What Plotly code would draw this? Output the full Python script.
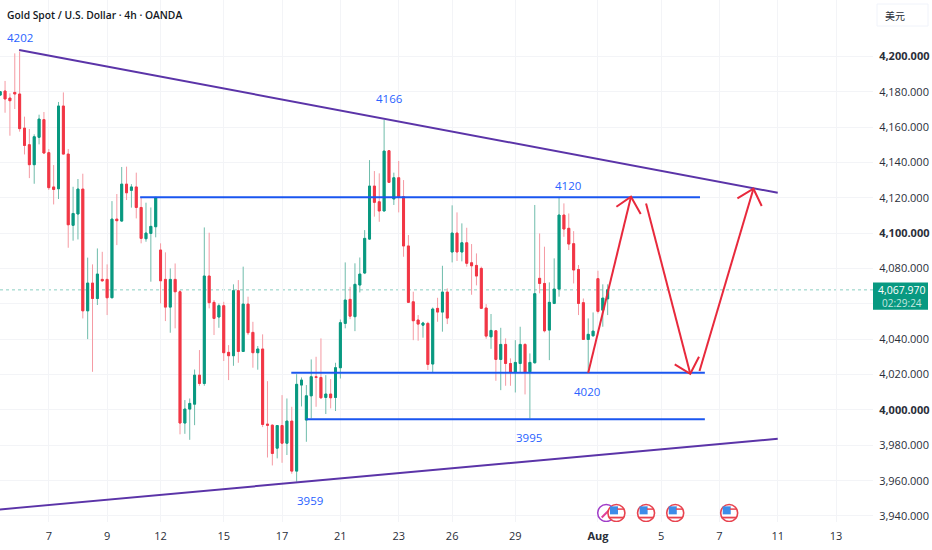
import plotly.graph_objects as go

opens = [4178.2,4180.5,4176.5,4179.7,4178.8,4159.5,4150.1,4138.8,4154.3,4164.3,
4145.6,4126.2,4125.2,4172.0,4144.8,4104.5,4110.9,4125.0,4056.1,4071.8,
4063.1,4073.9,4073.9,4063.5,4108.0,4106.9,4127.8,4124.3,4126.2,4114.6,
4096.9,4099.9,4103.7,4090.5,4073.9,4058.2,4073.9,4066.9,3992.6,4000.5,
4003.3,4019.7,4015.0,4075.8,4060.9,4052.6,4059.0,4032.6,4030.7,4067.5,
4033.1,4059.9,4043.9,4032.4,4034.5,3992.0,3991.4,3978.4,3991.2,3981.2,
3993.7,3965.4,4014.1,3994.3,4008.0,4018.8,4018.4,4007.1,4009.0,4007.1,
4023.9,4049.0,4062.6,4052.8,4070.7,4077.5,4096.7,4126.7,4117.8,4112.6,
4146.7,4119.4,4131.4,4120.7,4092.8,4061.2,4050.9,4048.0,4049.0,4026.0,
4057.5,4055.4,4066.7,4089.4,4100.1,4089.4,4094.6,4083.3,4081.8,4080.1,
4057.7,4041.4,4044.8,4028.6,4037.1,4026.3,4021.2,4026.3,4037.1,4021.6,
4026.7,4074.5,4071.6,4045.2,4060.3,4068.4,4110.3,4102.8,4094.1,4079.5,
4060.7,4039.9,4042.0,4074.3,4056.5,4062.9]
highs = [4180.5,4186.2,4179.2,4201.8,4202.8,4166.0,4159.0,4156.0,4167.1,4168.6,
4147.7,4138.6,4174.3,4179.7,4147.7,4126.3,4130.7,4133.7,4086.2,4082.4,
4091.4,4089.5,4082.4,4118.2,4122.2,4137.5,4137.7,4127.8,4134.3,4120.3,
4117.3,4114.6,4120.3,4094.3,4089.2,4080.1,4082.9,4067.8,4005.6,4006.5,
4022.9,4033.9,4103.3,4100.3,4062.2,4060.3,4061.2,4036.7,4071.1,4073.5,
4081.1,4064.1,4049.9,4036.2,4042.8,4016.3,3991.8,3991.4,4008.4,4006.5,
4001.8,4020.3,4018.4,4014.1,4028.6,4030.1,4040.5,4019.7,4017.5,4026.7,
4051.2,4083.5,4069.7,4083.0,4086.3,4101.8,4141.4,4135.2,4133.9,4164.1,
4147.1,4134.3,4140.9,4130.1,4099.0,4066.9,4053.7,4049.9,4049.9,4058.0,
4063.5,4081.6,4068.8,4115.8,4111.8,4105.6,4103.1,4093.9,4088.6,4081.1,
4059.9,4054.3,4045.2,4046.5,4040.5,4029.2,4039.5,4047.1,4037.7,4032.0,
4116.0,4099.9,4092.4,4072.2,4085.8,4120.1,4116.9,4111.2,4101.2,4082.0,
4063.1,4051.8,4055.2,4078.8,4071.1,4071.1]
lows = [4177.8,4168.2,4155.2,4170.3,4157.5,4144.6,4131.2,4128.0,4150.3,4144.8,
4124.5,4116.3,4119.4,4144.8,4091.8,4095.8,4096.5,4051.8,4040.1,4021.6,
4059.4,4072.4,4053.7,4063.5,4093.3,4106.5,4118.8,4114.5,4108.4,4094.3,
4095.2,4072.6,4097.7,4060.3,4050.3,4043.7,4046.2,3986.2,3986.5,3983.1,
3991.4,4013.7,4013.7,4057.5,4042.4,4046.5,4027.7,4016.9,4025.0,4026.7,
4033.1,4042.4,4023.9,4022.8,3990.3,3973.1,3968.6,3972.6,3970.1,3974.5,
3963.9,3959.4,4002.0,3982.0,3995.2,4001.8,4006.2,3997.7,4000.9,3999.4,
4017.8,4046.2,4051.4,4044.6,4066.5,4076.9,4096.2,4109.4,4106.5,4112.6,
4128.8,4116.0,4111.8,4086.7,4060.9,4039.5,4039.2,4040.9,4022.6,4021.1,
4049.9,4044.3,4048.6,4083.5,4084.3,4084.1,4081.1,4065.2,4070.5,4057.1,
4040.3,4034.6,4016.5,4011.2,4013.7,4013.7,4009.9,4021.2,4008.8,3995.2,
4026.3,4066.0,4043.9,4028.2,4059.9,4064.1,4098.0,4090.5,4071.6,4053.7,
4039.9,4021.1,4041.4,4054.6,4047.1,4053.7]
closes = [4180.1,4176.0,4175.0,4178.8,4159.2,4149.7,4138.8,4154.6,4164.6,4145.4,
4125.8,4124.8,4172.0,4144.8,4104.8,4111.2,4125.0,4056.1,4071.8,4063.1,
4076.9,4073.1,4063.5,4108.0,4107.1,4127.8,4122.9,4126.2,4114.6,4097.1,
4100.1,4103.9,4120.3,4073.1,4058.2,4073.9,4066.9,3992.6,4000.5,4003.7,
4019.7,4015.0,4075.8,4060.7,4051.8,4059.0,4032.4,4030.7,4067.5,4033.1,
4059.9,4043.7,4032.4,4034.5,3991.8,3991.4,3975.4,3991.2,3981.2,3993.7,
3965.4,4014.5,4016.9,4008.0,4018.8,4018.4,4006.9,4009.0,4006.9,4023.9,
4049.4,4062.2,4053.1,4071.1,4076.9,4097.1,4126.7,4117.5,4112.6,4146.5,
4128.8,4131.4,4120.7,4092.8,4060.9,4050.5,4048.6,4049.2,4025.8,4057.1,
4055.4,4066.7,4052.0,4100.1,4089.4,4094.6,4083.0,4081.6,4075.8,4057.5,
4041.8,4045.0,4028.6,4037.1,4026.3,4021.2,4026.9,4037.1,4021.2,4026.9,
4065.8,4071.6,4044.8,4060.9,4068.4,4110.3,4102.4,4093.9,4079.2,4060.3,
4039.9,4042.8,4044.6,4055.8,4063.3,4067.97]
bars = list(range(len(opens)))

date_bars = [10,22,33,46,58,70,82,93,106,123,136,148,160,172]
date_labels = ["7","9","12","15","17","21","23","26","29","<b>Aug</b>","5","7","11","13"]
price_ticks = [3940,3960,3980,4000,4020,4040,4060,4080,4100,4120,4140,4160,4180,4200]
price_labels = ["3,940.000","3,960.000","3,980.000","<b>4,000.000</b>","4,020.000","4,040.000","",
                "4,080.000","<b>4,100.000</b>","4,120.000","4,140.000","4,160.000","4,180.000","<b>4,200.000</b>"]

upper_x, upper_y = [3.9,160], [4203.7,4122.9]
lower_x, lower_y = [-1,160], [3943.5,3983.7]
res_x, res_y = [28.8,144], [4120.4,4120.4]
mid_x, mid_y = [59.9,145], [4021.0,4021.0]
sup_x, sup_y = [63,145], [3994.8,3994.8]

up1_x, up1_y = [121,129.8], [4021,4120.7]
up1_head_x, up1_head_y = [126.8,129.8,131.8], [4115,4120.7,4110.9]
down_x, down_y = [132.9,142], [4116.9,4020.5]
down_head_x, down_head_y = [138.8,142,143.8], [4025.8,4020.5,4030.1]
up2_x, up2_y = [143.9,155], [4022,4125.2]
up2_head_x, up2_head_y = [151.7,155,156.7], [4119.7,4125.2,4115.4]

note_x = [4.1,80.2,116.9,120.8,108.8,63.8]
note_y = [4211,4176.5,4127.3,4010.7,3984.7,3949]
note_text = ["4202","4166","4120","4020","3995","3959"]

event_x = [126.8,132.9,138.9,150]
event_y = 3941.7
flash_x = 124.7
last_price = 4067.97

GREEN, RED = "#089981", "#f23645"
BLUE, PURPLE, ARROW = "#1a56f0", "#5b34a8", "#e8293c"
TXT = "#2a2e39"
FONT = "Open Sans"

fig = go.Figure()
# wicks
fig.add_trace(go.Candlestick(x=bars, open=opens, high=highs, low=lows, close=closes,
    whiskerwidth=0,
    increasing=dict(line=dict(color="#6fbcab", width=1), fillcolor=GREEN),
    decreasing=dict(line=dict(color="#f59aa3", width=1), fillcolor=RED)))
# solid bodies on top of the wicks
body_high = [max(a, b) for a, b in zip(opens, closes)]
body_low = [min(a, b) for a, b in zip(opens, closes)]
fig.add_trace(go.Candlestick(x=bars, open=opens, high=body_high, low=body_low, close=closes,
    whiskerwidth=0,
    increasing=dict(line=dict(color=GREEN, width=1), fillcolor=GREEN),
    decreasing=dict(line=dict(color=RED, width=1), fillcolor=RED)))

def line(x, y, color, w=2):
    fig.add_trace(go.Scatter(x=x, y=y, mode="lines", line=dict(color=color, width=w), hoverinfo="skip"))

line(upper_x, upper_y, PURPLE, 2)
line(lower_x, lower_y, PURPLE, 2)
line(res_x, res_y, BLUE)
line(mid_x, mid_y, BLUE)
line(sup_x, sup_y, BLUE)
for ax, ay in [(up1_x, up1_y), (up1_head_x, up1_head_y), (down_x, down_y),
               (down_head_x, down_head_y), (up2_x, up2_y), (up2_head_x, up2_head_y)]:
    line(ax, ay, ARROW, 2)

# event badges
fig.add_trace(go.Scatter(x=[flash_x], y=[event_y], mode="markers", hoverinfo="skip",
    marker=dict(symbol="circle", size=17, color="white", line=dict(color="#a03cc8", width=1.5))))
fig.add_trace(go.Scatter(x=[flash_x], y=[event_y], mode="markers", hoverinfo="skip",
    marker=dict(symbol="line-ne", size=9, line=dict(color="#e0409a", width=2))))
fig.add_trace(go.Scatter(x=event_x, y=[event_y]*len(event_x), mode="markers", hoverinfo="skip",
    marker=dict(symbol="circle", size=17, color="white", line=dict(color="#e8434f", width=1.6))))
fig.add_trace(go.Scatter(x=[v-0.5 for v in event_x], y=[event_y+1.5]*len(event_x), mode="markers", hoverinfo="skip",
    marker=dict(symbol="square", size=8, color="#3d8ce8")))
fig.add_trace(go.Scatter(x=[v+0.9 for v in event_x], y=[event_y+2.2]*len(event_x), mode="markers", hoverinfo="skip",
    marker=dict(symbol="line-ew", size=5, line=dict(color="#e8434f", width=1.5))))
fig.add_trace(go.Scatter(x=event_x, y=[event_y-2.6]*len(event_x), mode="markers", hoverinfo="skip",
    marker=dict(symbol="line-ew", size=11, line=dict(color="#e8434f", width=1.8))))

annotations = [dict(x=a, y=b, text=t, xref="x", yref="y", showarrow=False,
                    font=dict(family=FONT, size=11.5, color="#2962ff"))
               for a, b, t in zip(note_x, note_y, note_text)]
annotations += [
    dict(x=5/873, xref="paper", xanchor="left", y=1 - 15/522, yref="paper", yanchor="middle",
         text="Gold Spot / U.S. Dollar · 4h · OANDA", showarrow=False,
         font=dict(family=FONT, size=10.3, color="#131722", weight=600)),
    dict(x=883/873, xref="paper", xanchor="left", y=1 - 15/522, yref="paper", yanchor="middle",
         text="美元", showarrow=False, font=dict(family="Noto Sans CJK SC", size=10, color=TXT)),
    dict(x=902/873, xref="paper", xanchor="center", y=last_price, yref="y", yshift=0, yanchor="middle", showarrow=False,
         text="4,067.970", font=dict(family=FONT, size=10.5, color="white")),
    dict(x=902/873, xref="paper", xanchor="center", y=last_price, yref="y", yshift=-13, yanchor="middle", showarrow=False,
         text="02:29:24", font=dict(family=FONT, size=10, color="#c8e8e0")),
]

shapes = [
    dict(type="line", xref="paper", yref="y", x0=0, x1=1, y0=last_price, y1=last_price,
         line=dict(color="#8ccfc2", width=1, dash="dot"), layer="below"),
    dict(type="rect", xref="paper", yref="y", x0=1, x1=928/873, y0=last_price+4.2, y1=last_price-11.2,
         fillcolor=GREEN, line=dict(width=0), layer="below"),
    dict(type="rect", xref="paper", yref="paper", x0=877/873, x1=928/873, y0=1-26/522, y1=1-4/522,
         fillcolor="white", line=dict(color="#f0f3fa", width=1), layer="below"),
]

fig.update_layout(
    width=932, height=550, autosize=False, showlegend=False, boxgap=0.42, boxmode="overlay",
    margin=dict(l=0, r=59, t=0, b=28, pad=0),
    paper_bgcolor="white", plot_bgcolor="white",
    annotations=annotations, shapes=shapes,
    xaxis=dict(range=[-0.04,179.6], rangeslider=dict(visible=False), tickmode="array",
               tickvals=date_bars, ticktext=date_labels, showgrid=True, gridcolor="#f3f4f7", gridwidth=1,
               zeroline=False, showline=False, ticks="outside", ticklen=4, tickcolor="rgba(0,0,0,0)",
               tickfont=dict(family=FONT, size=11, color=TXT)),
    yaxis=dict(range=[3936.6,4232], side="right", tickmode="array", tickvals=price_ticks, ticktext=price_labels,
               showgrid=True, gridcolor="#f3f4f7", gridwidth=1, zeroline=False, showline=False,
               ticks="outside", ticklen=3, tickcolor="rgba(0,0,0,0)",
               tickfont=dict(family=FONT, size=11, color=TXT)),
)
fig.write_html("out.html", config=dict(displayModeBar=False), post_script="document.body.style.margin='0';")
